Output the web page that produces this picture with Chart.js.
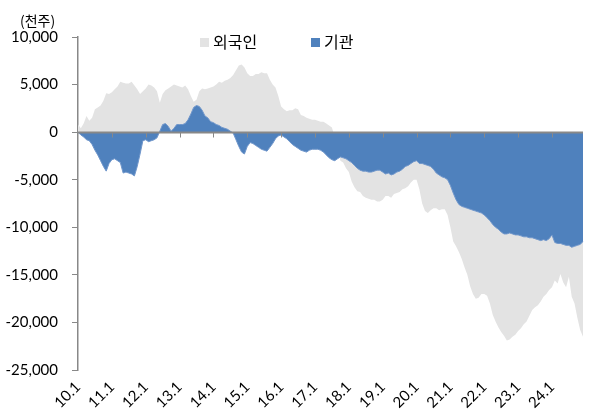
<!DOCTYPE html>
<html>
<head>
<meta charset="utf-8">
<script src="https://cdn.jsdelivr.net/npm/chart.js@4.4.1/dist/chart.umd.min.js"></script>
<style>
  html, body { margin: 0; padding: 0; background: #fff; }
</style>
</head>
<body>
<canvas id="myChart" width="590" height="416"></canvas>
<script>
// 연도 / 눈금
const years = ['10', '11', '12', '13', '14', '15', '16', '17', '18', '19', '20', '21', '22', '23', '24'];
const yearTicks = ['10.1', '11.1', '12.1', '13.1', '14.1', '15.1', '16.1', '17.1', '18.1', '19.1', '20.1', '21.1', '22.1', '23.1', '24.1'];
const yTicks = [10000, 5000, 0, -5000, -10000, -15000, -20000, -25000];

// 월별 누적 순매수 (천주)
const foreign = [
  800, 400, 900, 1700, 1200, 1500, 2400, 2600, 2800, 3300, 4100, 4000,
  4200, 4500, 4800, 5300, 5200, 5100, 5100, 5300, 4900, 4500, 4000, 4300,
  4600, 5000, 4900, 4700, 4300, 3100, 4000, 4400, 4600, 4800, 5000, 4900,
  4800, 4700, 4900, 4500, 3800, 3200, 3400, 4300, 4600, 4500, 4600, 4700,
  4800, 5000, 5300, 5200, 5400, 5500, 5700, 6000, 6500, 7000, 7100, 6800,
  6200, 5900, 5900, 6100, 6100, 6300, 6200, 6200, 5500, 5000, 4700, 3800,
  2700, 2400, 2200, 2300, 2300, 2500, 2400, 1800, 1700, 1500, 1400, 1300,
  1300, 1200, 1100, 1100, 900, 700, 500, -500, -1800, -3000, -3200, -3800,
  -4200, -5200, -5800, -6200, -6300, -6700, -6900, -7000, -7100, -7100, -7300, -7300,
  -7100, -6700, -6700, -6900, -6500, -6400, -6300, -6000, -5900, -5700, -5300, -5000,
  -5000, -6000, -7500, -8300, -8500, -8200, -8000, -8000, -8200, -8100, -8100, -8700,
  -10000, -11500, -12000, -12600, -13300, -14200, -15000, -16200, -17000, -17500, -17400, -17000,
  -17000, -17200, -18000, -19200, -19900, -20500, -21000, -21400, -21900, -21800, -21500, -21300,
  -20900, -20600, -20200, -19900, -19300, -18700, -18400, -18200, -17800, -17300, -17000, -16600,
  -16300, -15600, -15900, -14900, -15800, -16300, -15200, -17300, -18000, -19500, -20800, -21500
];
const institution = [
  0, -300, -500, -800, -900, -1300, -1900, -2400, -3000, -3600, -4100, -3300,
  -2900, -2800, -3000, -3200, -4300, -4200, -4300, -4400, -4600, -3600, -2300, -900,
  -800, -1000, -900, -800, -600, 100, 800, 900, 600, 100, 400, 800,
  800, 800, 900, 1300, 1900, 2600, 2800, 2700, 2300, 1700, 1500, 1100,
  1000, 800, 700, 500, 400, 300, 100, -100, -800, -1500, -2100, -2300,
  -1500, -1100, -1200, -1400, -1600, -1800, -1900, -2000, -1600, -1200, -700, -400,
  -300, -500, -700, -1000, -1300, -1500, -1700, -1900, -2000, -2100, -1900, -1800,
  -1800, -1800, -1900, -2100, -2400, -2700, -2900, -3000, -2800, -2600, -2700, -2800,
  -3000, -3200, -3500, -3800, -4000, -4100, -4100, -4200, -4200, -4100, -4000, -4000,
  -4200, -4400, -4300, -4500, -4400, -4200, -4100, -3900, -3600, -3500, -3300, -3100,
  -3000, -3300, -3300, -3400, -3500, -3600, -3900, -4300, -4500, -4700, -4800, -5000,
  -5600, -6400, -7100, -7600, -7800, -7900, -8000, -8100, -8200, -8300, -8400, -8500,
  -8700, -9000, -9300, -9700, -10000, -10200, -10500, -10700, -10700, -10600, -10700, -10800,
  -10800, -10900, -11000, -11000, -11100, -11100, -11200, -11300, -11400, -11300, -11400, -11200,
  -10800, -11600, -11700, -11700, -11800, -11900, -11900, -12100, -12000, -11900, -11800, -11500
];

const meses = [];
years.forEach(y => { for (let m = 1; m <= 12; m++) meses.push(y + '.' + m); });

const FONT = "Lato, 'Noto Sans CJK KR', sans-serif";
const KFONT = "'Noto Sans CJK KR', sans-serif";
const AXIS = '#888888';

// 0 선 + 연도 눈금, 범례, 단위
const extras = {
  id: 'extras',
  afterDatasetsDraw(chart) {
    const { ctx, chartArea, scales: { x, y } } = chart;
    const y0 = Math.round(y.getPixelForValue(0)) + 0.5;
    ctx.save();
    ctx.strokeStyle = AXIS;
    ctx.lineWidth = 2;
    ctx.beginPath();
    ctx.moveTo(chartArea.left, y0);
    ctx.lineTo(chartArea.right, y0);
    ctx.stroke();
    ctx.lineWidth = 1;
    meses.forEach((lab, i) => {
      if (!yearTicks.includes(lab) || i === 0) return;
      const px = Math.round(x.getPixelForValue(i)) + 0.5;
      ctx.beginPath();
      ctx.moveTo(px, y0);
      ctx.lineTo(px, y0 + 5);
      ctx.stroke();
    });
    ctx.restore();
  },
  afterDraw(chart) {
    const ctx = chart.ctx;
    ctx.save();
    ctx.fillStyle = '#000';
    ctx.font = '14px ' + KFONT;
    ctx.textBaseline = 'middle';
    ctx.textAlign = 'left';
    ctx.fillText('(천주)', 20, 21);
    // 범례: 외국인, 기관
    const items = [chart.data.datasets[1], chart.data.datasets[0]];
    const xs = [200, 311];
    ctx.font = '16px ' + KFONT;
    items.forEach((ds, i) => {
      ctx.fillStyle = ds.legendColor;
      ctx.fillRect(xs[i], 38, 9, 9);
      ctx.fillStyle = '#000';
      ctx.fillText(ds.label, xs[i] + 13, 42);
    });
    ctx.restore();
  }
};

const ctx = document.getElementById('myChart');
const myChart = new Chart(ctx, {
  type: 'line',
  data: {
    labels: meses,
    datasets: [{
      label: '기관',
      data: institution,
      backgroundColor: '#4f81bd',
      borderColor: '#7197cb',
      legendColor: '#4f81bd',
      borderWidth: 1,
      fill: 'origin',
      pointRadius: 0,
      tension: 0
    }, {
      label: '외국인',
      data: foreign,
      backgroundColor: '#e3e3e3',
      borderColor: '#e3e3e3',
      legendColor: '#e3e3e3',
      borderWidth: 0,
      fill: 'origin',
      pointRadius: 0,
      tension: 0
    }]
  },
  options: {
    responsive: false,
    animation: false,
    devicePixelRatio: 1,
    layout: { padding: { top: 37, right: 7, left: 6, bottom: 0 } },
    plugins: {
      legend: { display: false },
      tooltip: { enabled: false }
    },
    scales: {
      x: {
        type: 'category',
        grid: { display: false, drawTicks: false },
        border: { display: false },
        afterFit(scale) {
          scale.height = 46;
          scale.paddingRight = 0;
          scale.paddingLeft = 0;
        },
        ticks: {
          autoSkip: false,
          minRotation: 45,
          maxRotation: 45,
          padding: 8,
          color: '#000',
          font: { family: FONT, size: 15 },
          callback(value) {
            const lab = this.getLabelForValue(value);
            return yearTicks.includes(lab) ? lab : '';
          }
        }
      },
      y: {
        min: -25000,
        max: 10000,
        afterFit(scale) { scale.width = 72; },
        afterBuildTicks(scale) { scale.ticks = yTicks.map(v => ({ value: v })); },
        grid: { drawOnChartArea: false, drawTicks: true, tickLength: 6, color: AXIS, lineWidth: 1 },
        border: { display: true, color: AXIS, width: 1.5 },
        ticks: {
          padding: 14,
          color: '#000',
          font: { family: FONT, size: 15 },
          callback(value) { return value.toLocaleString('en-US'); }
        }
      }
    }
  },
  plugins: [extras]
});
</script>
</body>
</html>
